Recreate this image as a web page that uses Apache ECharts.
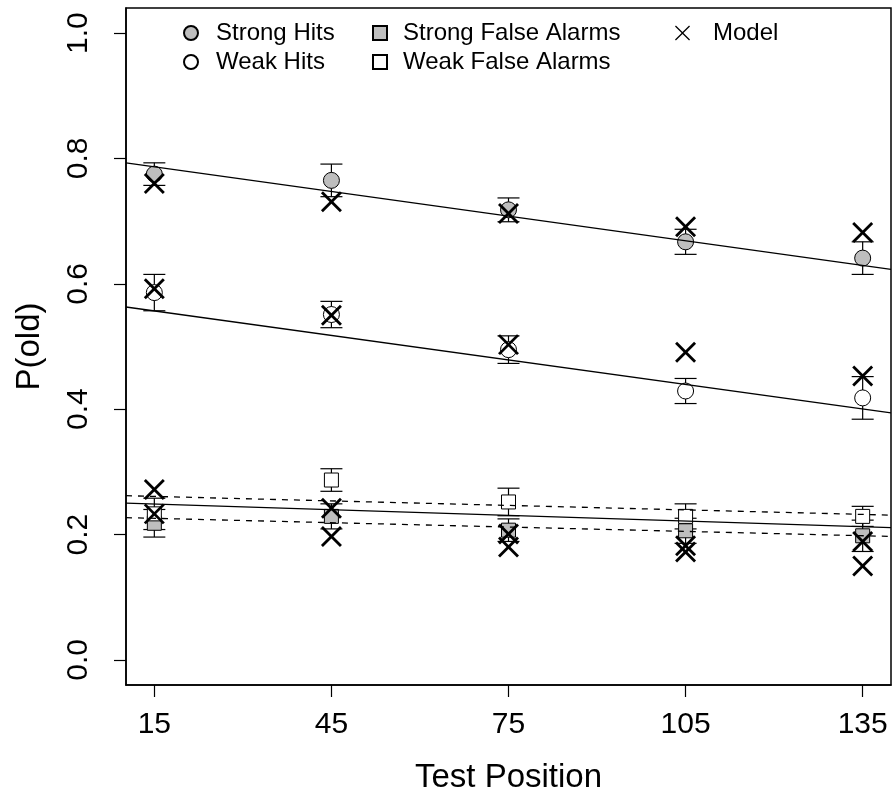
<!DOCTYPE html>
<html>
<head>
<meta charset="utf-8">
<title>P(old) by Test Position</title>
<script src="https://cdn.jsdelivr.net/npm/echarts@6/dist/echarts.min.js"></script>
<style>
  html, body { margin: 0; padding: 0; background: #fff; }
  #chart { width: 894px; height: 799px; }
</style>
</head>
<body>
<div id="chart"></div>
<script>
// Test positions (x axis)
const positions = [15, 45, 75, 105, 135];
const xTicks = [15, 45, 75, 105, 135];
const yTicks = [0, 0.2, 0.4, 0.6, 0.8, 1.0];
const xRange = [10.2, 139.8];

// Observed proportions and standard errors
const strongHits   = [0.775, 0.765, 0.718, 0.667, 0.641];
const strongHitsSE = [0.018, 0.026, 0.019, 0.020, 0.026];
const weakHits     = [0.586, 0.551, 0.495, 0.429, 0.418];
const weakHitsSE   = [0.029, 0.021, 0.022, 0.020, 0.034];
const strongFA     = [0.218, 0.229, 0.207, 0.206, 0.198];
const strongFASE   = [0.022, 0.020, 0.018, 0.020, 0.025];
const weakFA       = [0.233, 0.287, 0.252, 0.229, 0.229];
const weakFASE     = [0.025, 0.018, 0.022, 0.020, 0.016];

// Model predictions
const modelStrongHits = [0.760, 0.731, 0.712, 0.691, 0.682];
const modelWeakHits   = [0.592, 0.550, 0.503, 0.491, 0.453];
const modelFA1        = [0.272, 0.242, 0.201, 0.182, 0.189];
const modelFA2        = [0.233, 0.197, 0.180, 0.172, 0.150];

// Fitted regression lines, values at the left and right ends of the x range
const fitStrongHits = [0.793, 0.623];
const fitWeakHits   = [0.563, 0.394];
const fitFA         = [0.250, 0.211];
const fitWeakFA     = [0.262, 0.231];
const fitStrongFA   = [0.227, 0.197];

const FONT = 'Liberation Sans, Arial, Helvetica, sans-serif';
const GRAY = '#BEBEBE';

function pts(values) { return positions.map((p, i) => [p, values[i]]); }
function bars(values, se) { return positions.map((p, i) => [p, values[i] - se[i], values[i] + se[i]]); }
function fit(ends) { return [[xRange[0], ends[0]], [xRange[1], ends[1]]]; }

function renderErrorBar(params, api) {
  const x = api.value(0);
  const lo = api.coord([x, api.value(1)]);
  const hi = api.coord([x, api.value(2)]);
  const cap = 11;
  const st = { stroke: '#000', lineWidth: 1.2 };
  return {
    type: 'group',
    children: [
      { type: 'line', shape: { x1: lo[0], y1: lo[1], x2: hi[0], y2: hi[1] }, style: st },
      { type: 'line', shape: { x1: lo[0] - cap, y1: lo[1], x2: lo[0] + cap, y2: lo[1] }, style: st },
      { type: 'line', shape: { x1: hi[0] - cap, y1: hi[1], x2: hi[0] + cap, y2: hi[1] }, style: st }
    ]
  };
}

function renderCross(params, api) {
  const c = api.coord([api.value(0), api.value(1)]);
  const h = 9.5;
  const st = { stroke: '#000', lineWidth: 2.8 };
  return {
    type: 'group',
    children: [
      { type: 'line', shape: { x1: c[0] - h, y1: c[1] - h, x2: c[0] + h, y2: c[1] + h }, style: st },
      { type: 'line', shape: { x1: c[0] - h, y1: c[1] + h, x2: c[0] + h, y2: c[1] - h }, style: st }
    ]
  };
}

function errorSeries(values, se) {
  return {
    type: 'custom', renderItem: renderErrorBar, data: bars(values, se),
    encode: { x: 0, y: [1, 2] }, silent: true, z: 2
  };
}

function pointSeries(name, symbol, size, fill, values) {
  return {
    name: name, type: 'scatter', symbol: symbol, symbolSize: size,
    itemStyle: { color: fill, borderColor: '#000', borderWidth: 1, opacity: 1 },
    data: pts(values), z: 3
  };
}

function fitSeries(ends, dashed) {
  return {
    type: 'line', data: fit(ends), showSymbol: false, silent: true, z: 4,
    lineStyle: { color: '#000', width: 1.3, type: dashed ? [6, 6] : 'solid' }
  };
}

function modelSeries(values, name) {
  return {
    name: name, type: 'custom', renderItem: renderCross, data: pts(values),
    encode: { x: 0, y: 1 }, itemStyle: { color: '#000' }, z: 5
  };
}

const crossIcon = 'path://M0,6 L6,0 L50,44 L94,0 L100,6 L56,50 L100,94 L94,100 L50,56 L6,100 L0,94 L44,50 Z';

function legendText(pad) {
  return { fontFamily: FONT, fontSize: 24, color: '#000', padding: [0, 0, 0, pad] };
}
const legendBase = {
  orient: 'vertical', top: 21, itemWidth: 14, itemHeight: 14, itemGap: 5,
  padding: 0, selectedMode: false
};

const chart = echarts.init(document.getElementById('chart'), null, { renderer: 'canvas' });
chart.setOption({
  animation: false,
  backgroundColor: '#fff',
  textStyle: { fontFamily: FONT },
  grid: {
    left: 126, right: 3, top: 8, bottom: 111,
    show: true, borderColor: '#000', borderWidth: 1.5, backgroundColor: 'transparent'
  },
  legend: [
    Object.assign({}, legendBase, { left: 183, textStyle: legendText(13), data: ['Strong Hits', 'Weak Hits'] }),
    Object.assign({}, legendBase, { left: 372, textStyle: legendText(11), data: ['Strong False Alarms', 'Weak False Alarms'] }),
    Object.assign({}, legendBase, { left: 675, itemWidth: 15, itemHeight: 15, textStyle: legendText(18),
      data: [{ name: 'Model', icon: crossIcon }] })
  ],
  xAxis: {
    type: 'value', min: xRange[0], max: xRange[1],
    name: 'Test Position', nameLocation: 'middle', nameGap: 76,
    nameTextStyle: { fontFamily: FONT, fontSize: 33, color: '#000' },
    axisLine: { show: true, onZero: false, lineStyle: { color: '#000', width: 1.5 } },
    axisTick: { show: true, customValues: xTicks, length: 12, lineStyle: { color: '#000', width: 1.2 } },
    axisLabel: { customValues: xTicks, fontFamily: FONT, fontSize: 30, color: '#000', margin: 25 },
    splitLine: { show: false }
  },
  yAxis: {
    type: 'value', min: -0.04, max: 1.04,
    name: 'P(old)', nameLocation: 'middle', nameGap: 80,
    nameTextStyle: { fontFamily: FONT, fontSize: 33, color: '#000' },
    axisLine: { show: true, onZero: false, lineStyle: { color: '#000', width: 1.5 } },
    axisTick: { show: true, customValues: yTicks, length: 12, lineStyle: { color: '#000', width: 1.2 } },
    axisLabel: {
      customValues: yTicks, rotate: 90, fontFamily: FONT, fontSize: 30, color: '#000', margin: 32,
      formatter: v => v.toFixed(1)
    },
    splitLine: { show: false }
  },
  series: [
    errorSeries(strongHits, strongHitsSE),
    errorSeries(weakHits, weakHitsSE),
    errorSeries(strongFA, strongFASE),
    errorSeries(weakFA, weakFASE),
    pointSeries('Strong Hits', 'circle', 16, GRAY, strongHits),
    pointSeries('Weak Hits', 'circle', 16, '#fff', weakHits),
    pointSeries('Strong False Alarms', 'rect', 14, GRAY, strongFA),
    pointSeries('Weak False Alarms', 'rect', 14, '#fff', weakFA),
    fitSeries(fitStrongHits, false),
    fitSeries(fitWeakHits, false),
    fitSeries(fitFA, false),
    fitSeries(fitWeakFA, true),
    fitSeries(fitStrongFA, true),
    modelSeries(modelStrongHits, 'Model'),
    modelSeries(modelWeakHits, 'Model'),
    modelSeries(modelFA1, 'Model'),
    modelSeries(modelFA2, 'Model')
  ]
});
</script>
</body>
</html>
